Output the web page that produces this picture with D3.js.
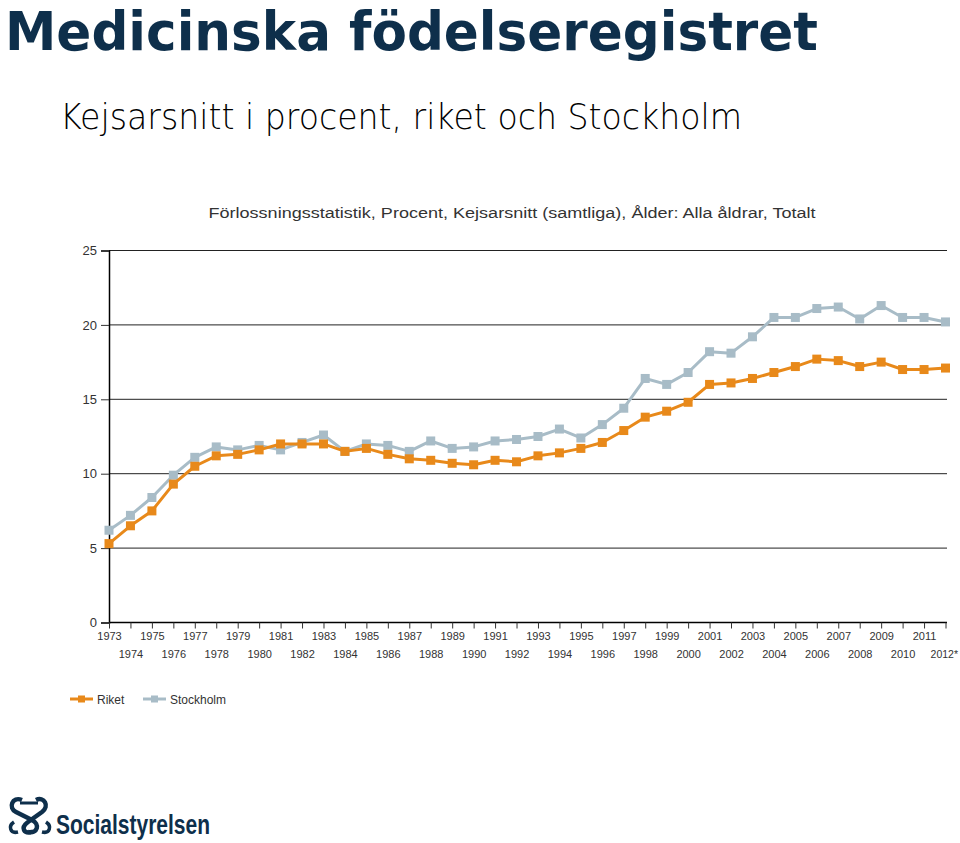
<!DOCTYPE html>
<html><head><meta charset="utf-8">
<script src="https://cdn.jsdelivr.net/npm/d3@7"></script>
<style>body{margin:0;background:#fff}svg{display:block}</style>
</head><body>
<script>
const years = d3.range(1973, 2013);
const yearLabels = years.map(y => y === 2012 ? "2012*" : String(y));
const riket = [5.3,6.5,7.5,9.3,10.5,11.2,11.3,11.6,12.0,12.0,12.0,11.5,11.7,11.3,11.0,10.9,10.7,10.6,10.9,10.8,11.2,11.4,11.7,12.1,12.9,13.8,14.2,14.8,16.0,16.1,16.4,16.8,17.2,17.7,17.6,17.2,17.5,17.0,17.0,17.1];
const stockholm = [6.2,7.2,8.4,9.9,11.1,11.8,11.6,11.9,11.6,12.1,12.6,11.5,12.0,11.9,11.5,12.2,11.7,11.8,12.2,12.3,12.5,13.0,12.4,13.3,14.4,16.4,16.0,16.8,18.2,18.1,19.2,20.5,20.5,21.1,21.2,20.4,21.3,20.5,20.5,20.2];
const yTicks = [0,5,10,15,20,25];
const seriesNames = ["Riket","Stockholm"];
const colors = ["#e8891a","#a8bcc7"];

const W = 960, H = 843;
const svg = d3.select("body").append("svg").attr("width", W).attr("height", H);

// Titles
svg.append("text").attr("x", 5).attr("y", 50)
  .attr("font-family", "'DejaVu Sans', sans-serif").attr("font-weight", "bold")
  .attr("font-size", 54).attr("fill", "#0e2f4b")
  .attr("textLength", 813).attr("lengthAdjust", "spacingAndGlyphs")
  .text("Medicinska födelseregistret");
svg.append("text").attr("x", 60).attr("y", 129)
  .attr("font-family", "'DejaVu Sans', sans-serif").attr("font-weight", 200)
  .attr("font-size", 35).attr("fill", "#000")
  .attr("textLength", 682).attr("lengthAdjust", "spacingAndGlyphs")
  .text("Kejsarsnitt i procent, riket och Stockholm");
svg.append("text").attr("x", 512).attr("y", 218).attr("text-anchor", "middle")
  .attr("font-family", "'Liberation Sans', Arial, sans-serif").attr("font-size", 15.5).attr("fill", "#333")
  .attr("textLength", 607).attr("lengthAdjust", "spacingAndGlyphs")
  .text("Förlossningsstatistik, Procent, Kejsarsnitt (samtliga), Ålder: Alla åldrar, Totalt");

const x = d3.scaleLinear().domain([1973, 2012]).range([109, 945.5]);
const y = d3.scaleLinear().domain([0, 25]).range([622.5, 250.5]);

// Grid lines
svg.append("g").selectAll("line").data(yTicks.filter(t => t > 0)).join("line")
  .attr("x1", 109).attr("x2", 947).attr("y1", d => y(d)).attr("y2", d => y(d))
  .attr("stroke", "#222").attr("stroke-width", 1);

// Y axis
const yAxis = svg.append("g").attr("transform", "translate(109,0)")
  .call(d3.axisLeft(y).tickValues(yTicks).tickSize(8).tickPadding(4));
yAxis.select(".domain").attr("stroke", "#000").attr("stroke-width", 1.5);
yAxis.selectAll(".tick line").attr("stroke", "#333");
yAxis.selectAll("text").attr("font-family", "'Liberation Sans', Arial, sans-serif").attr("font-size", 13).attr("fill", "#333");

// X axis
const xAxis = svg.append("g").attr("transform", "translate(0,622.5)")
  .call(d3.axisBottom(x).tickValues(years).tickSize(6).tickSizeOuter(0).tickFormat((d, i) => yearLabels[i]));
xAxis.select(".domain").attr("stroke", "#000").attr("stroke-width", 1.5).attr("d", "M109,0H947");
xAxis.selectAll(".tick line").attr("stroke", "#333");
xAxis.selectAll("text").attr("font-family", "'Liberation Sans', Arial, sans-serif").attr("font-size", 11).attr("fill", "#333")
  .attr("y", (d, i) => i % 2 === 0 ? 10 : 28);
xAxis.selectAll(".tick").filter(d => d === 2012).select("text").attr("text-anchor", "end").attr("x", 12).attr("font-size", 10.5);

// Lines
const line = d3.line().x((d, i) => x(years[i])).y(d => y(d));
const drawOrder = [1, 0];
drawOrder.forEach(k => {
  const s = [riket, stockholm][k];
  svg.append("path").datum(s).attr("d", line).attr("fill", "none")
    .attr("stroke", colors[k]).attr("stroke-width", 3).attr("stroke-linejoin", "round");
  svg.append("g").selectAll("rect").data(s).join("rect")
    .attr("x", (d, i) => x(years[i]) - 4.5).attr("y", d => y(d) - 4.5)
    .attr("width", 9).attr("height", 9).attr("fill", colors[k]);
});

// Legend
const leg = svg.append("g").attr("transform", "translate(70,699)");
seriesNames.forEach((n, k) => {
  const ox = k === 0 ? 0 : 73;
  leg.append("line").attr("x1", ox).attr("x2", ox + 23).attr("y1", 0).attr("y2", 0)
    .attr("stroke", colors[k]).attr("stroke-width", 3);
  leg.append("rect").attr("x", ox + 8).attr("y", -3.5).attr("width", 7).attr("height", 7).attr("fill", colors[k]);
  leg.append("text").attr("x", ox + 27).attr("y", 4.5)
    .attr("font-family", "'Liberation Sans', Arial, sans-serif").attr("font-size", 12).attr("fill", "#333").text(n);
});

// Logo
const logo = svg.append("g").attr("fill", "none").attr("stroke", "#0e2f4b").attr("stroke-width", 4.5);
logo.append("path").attr("d", "M22,800 C12,796 8,808 16,812 L32,820 C40,824 38,834 28,832 M36,800 C44,796 50,806 42,812 L28,822 C20,828 24,834 32,832");
logo.append("path").attr("d", "M14,822 C8,826 10,834 18,832 M46,822 C52,826 50,834 42,832").attr("stroke-width", 3.5);
logo.append("path").attr("d", "M20,803 L38,803").attr("stroke-width", 3);
svg.append("text").attr("x", 56).attr("y", 834)
  .attr("font-family", "'Liberation Sans Narrow', 'Liberation Sans', Arial, sans-serif").attr("font-weight", "bold")
  .attr("font-size", 27).attr("fill", "#0e2f4b")
  .attr("textLength", 154).attr("lengthAdjust", "spacingAndGlyphs")
  .text("Socialstyrelsen");
</script>
</body></html>
